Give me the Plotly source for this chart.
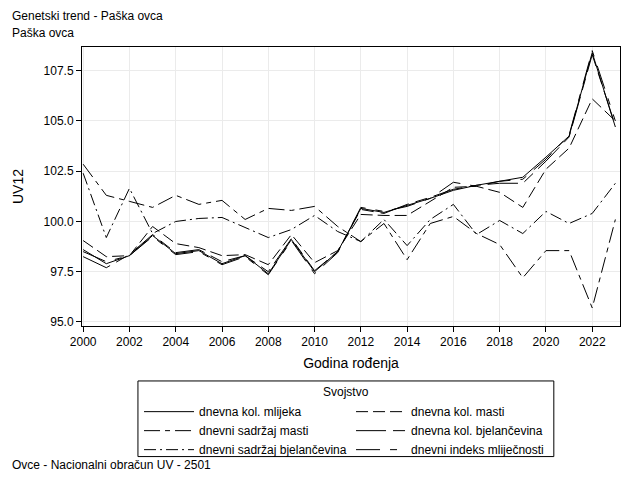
import plotly.graph_objects as go

years = list(range(2000, 2024))

kol_mlijeka = [98.6, 97.9, 98.3, 99.3, 98.4, 98.55, 97.9, 98.3, 97.4, 99.1, 97.5, 98.5,
               100.65, 100.45, 100.8, 101.15, 101.55, 101.8, 102.0, 102.2, 103.2, 104.25, 108.4, 104.7]
kol_masti = [99.05, 98.25, 98.3, 99.75, 98.9, 98.7, 98.3, 98.35, 97.85, 99.35, 97.95, 98.55,
             100.35, 100.3, 100.3, 101.0, 101.7, 101.75, 101.45, 100.7, 102.6, 103.65, 106.1, 105.0]
sadrzaj_masti = [102.85, 101.3, 101.0, 100.7, 101.3, 100.85, 101.05, 100.1, 100.65, 100.55, 100.75, 99.75,
                 99.0, 99.9, 98.1, 99.9, 100.25, 99.4, 98.85, 97.2, 98.55, 98.55, 95.7, 100.1]
kol_bjelancevina = [98.25, 97.7, 98.35, 99.35, 98.45, 98.6, 98.0, 98.3, 97.5, 99.15, 97.55, 98.5,
                    100.6, 100.4, 100.85, 101.2, 101.6, 101.8, 101.9, 101.9, 103.0, 104.2, 108.3, 104.75]
sadrzaj_bjelancevina = [102.4, 99.2, 101.65, 99.4, 100.0, 100.15, 100.2, 99.7, 99.2, 99.6, 100.3, 99.5,
                        99.0, 100.1, 98.8, 100.1, 100.85, 99.35, 100.05, 99.4, 100.5, 99.9, 100.4, 101.9]
indeks = [98.5, 98.0, 98.3, 99.25, 98.35, 98.5, 97.85, 98.25, 97.35, 99.05, 97.4, 98.45,
          100.7, 100.5, 100.75, 101.15, 101.95, 101.75, 102.0, 102.1, 103.1, 104.3, 108.5, 105.0]

names = ["dnevna kol. mlijeka", "dnevna kol. masti", "dnevni sadržaj masti",
         "dnevna kol. bjelančevina", "dnevni sadržaj bjelančevina", "dnevni indeks mliječnosti"]
series = [kol_mlijeka, kol_masti, sadrzaj_masti, kol_bjelancevina, sadrzaj_bjelancevina, indeks]
dashes = ["solid", "12px,5px", "16px,5px,5px,5px", "30px,7px,12px,7px", "12px,4px,2px,4px", "24px,10px,7px,10px"]

x_ticks = list(range(2000, 2024, 2))
y_ticks = [95.0, 97.5, 100.0, 102.5, 105.0, 107.5]

fig = go.Figure()
for n, s, d in zip(names, series, dashes):
    fig.add_trace(go.Scatter(x=years, y=s, mode="lines", name=n,
                             line=dict(color="black", width=1, dash=d)))

font = "Liberation Sans, Arial, sans-serif"
fig.update_layout(
    width=640, height=480,
    margin=dict(l=74, r=28, t=39, b=162, autoexpand=False),
    paper_bgcolor="white", plot_bgcolor="white",
    font=dict(family=font, size=12, color="black"),
    showlegend=True,
    legend=dict(orientation="h", x=0.106, xanchor="left", y=-0.255, yanchor="top",
                borderwidth=0, bgcolor="rgba(0,0,0,0)",
                entrywidth=147, entrywidthmode="pixels",
                font=dict(size=12), tracegroupgap=0, itemwidth=50),
    shapes=[
        dict(type="rect", xref="paper", yref="paper", x0=0.104, x1=0.877, y0=-0.197, y1=-0.468,
             line=dict(color="black", width=1), fillcolor="rgba(0,0,0,0)", layer="below"),
    ],
    annotations=[
        dict(text="Genetski trend - Paška ovca", xref="paper", yref="paper", x=-0.1338, y=1.111,
             xanchor="left", yanchor="middle", showarrow=False, font=dict(size=12)),
        dict(text="Paška ovca", xref="paper", yref="paper", x=-0.1338, y=1.050,
             xanchor="left", yanchor="middle", showarrow=False, font=dict(size=12)),
        dict(text="Svojstvo", xref="paper", yref="paper", x=0.491, y=-0.2366,
             xanchor="center", yanchor="middle", showarrow=False, font=dict(size=12)),
        dict(text="Ovce - Nacionalni obračun UV - 2501", xref="paper", yref="paper", x=-0.1338, y=-0.498,
             xanchor="left", yanchor="middle", showarrow=False, font=dict(size=12)),
    ],
)
fig.update_xaxes(range=[1999.95, 2023.2], tickvals=x_ticks, ticks="outside", ticklen=5,
                 tickcolor="black", showline=True, linecolor="black", linewidth=1, mirror=True,
                 showgrid=True, gridcolor="#ebebeb", zeroline=False, automargin=False,
                 title=dict(text="Godina rođenja", standoff=9), tickfont=dict(size=12))
fig.update_yaxes(range=[94.8, 108.68], tickvals=y_ticks, tickformat=".1f", ticks="outside", ticklen=5,
                 tickcolor="black", showline=True, linecolor="black", linewidth=1, mirror=True,
                 showgrid=True, gridcolor="#ebebeb", zeroline=False, automargin=False,
                 title=dict(text="UV12", standoff=16), tickfont=dict(size=12))

fig.write_html("out.html")
